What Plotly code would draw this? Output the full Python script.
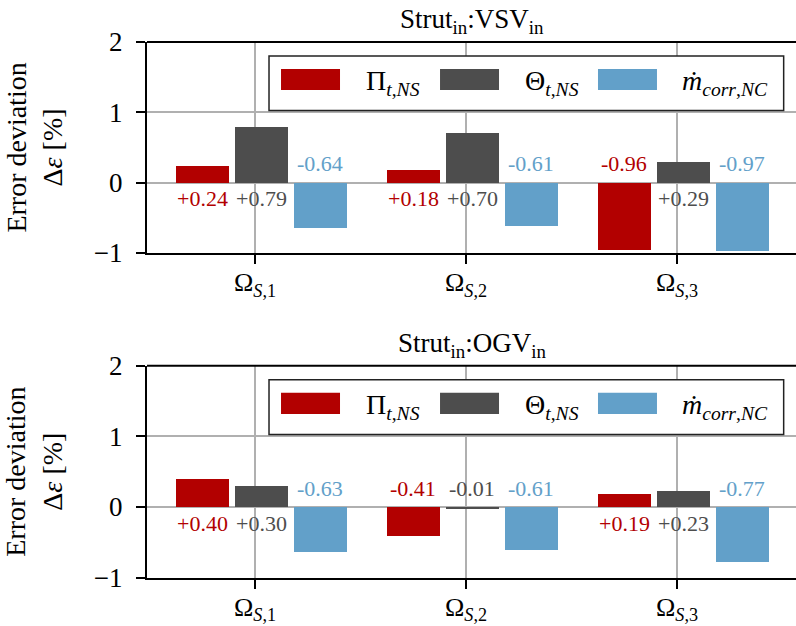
import plotly.graph_objects as go

# Operating points on the x axis
categories = ["Ω<sub><i>S</i>,1</sub>", "Ω<sub><i>S</i>,2</sub>", "Ω<sub><i>S</i>,3</sub>"]

# Error deviation [%] per quantity, panel "Strut_in : VSV_in"
vsv_pi = [0.24, 0.18, -0.96]
vsv_theta = [0.79, 0.70, 0.29]
vsv_mdot = [-0.64, -0.61, -0.97]

# Error deviation [%] per quantity, panel "Strut_in : OGV_in"
ogv_pi = [0.40, -0.41, 0.19]
ogv_theta = [0.30, -0.01, 0.23]
ogv_mdot = [-0.63, -0.61, -0.77]

series_names = ["Π<sub><i>t</i>,<i>NS</i></sub>",
                "Θ<sub><i>t</i>,<i>NS</i></sub>",
                "<i>ṁ</i><sub><i>corr</i>,<i>NC</i></sub>"]
panel_titles = ["Strut<sub>in</sub>:VSV<sub>in</sub>", "Strut<sub>in</sub>:OGV<sub>in</sub>"]
y_ticks = [-1, 0, 1, 2]

colors = ["#b20000", "#4d4d4d", "#62a0c9"]
offsets = [-0.25, 0.03, 0.31]
bar_width = 0.25
FONT = "Liberation Serif"

panels = [
    (panel_titles[0], [vsv_pi, vsv_theta, vsv_mdot], "x", "y"),
    (panel_titles[1], [ogv_pi, ogv_theta, ogv_mdot], "x2", "y2"),
]

fig = go.Figure()
annotations = []
shapes = []


def fmt(v):
    return ("+%.2f" % v) if v >= 0 else ("-%.2f" % abs(v))


for title, series, xa, ya in panels:
    xdom = xa + " domain"
    ydom = ya + " domain"
    for s, vals in enumerate(series):
        xs = [i + offsets[s] for i in range(len(categories))]
        fig.add_trace(go.Bar(
            x=xs, y=vals, width=bar_width, marker_color=colors[s],
            marker_line_width=0, name=series_names[s], showlegend=False,
            xaxis=xa, yaxis=ya,
        ))
        # value labels sit on the opposite side of the zero line
        for xv, v in zip(xs, vals):
            annotations.append(dict(
                x=xv, y=0, xref=xa, yref=ya, text=fmt(v), showarrow=False,
                xanchor="center", yanchor="middle",
                yshift=-16 if v >= 0 else 19,
                font=dict(family=FONT, size=22, color=colors[s]),
            ))

    # panel title
    annotations.append(dict(
        x=0.5, y=1, xref=xdom, yref=ydom, text=title, showarrow=False,
        xanchor="center", yanchor="bottom", yshift=2,
        font=dict(family=FONT, size=27, color="black"),
    ))
    # top spine
    shapes.append(dict(type="line", xref=xdom, yref=ydom, x0=0, x1=1, y0=1, y1=1,
                       line=dict(color="black", width=2)))
    # legend frame
    shapes.append(dict(type="rect", xref=xdom, yref=ydom, x0=0.188, x1=0.981,
                       y0=0.676, y1=0.934, fillcolor="white",
                       line=dict(color="#222222", width=1.5), layer="above"))
    patch_x = [(0.2065, 0.2974), (0.4515, 0.5424), (0.6949, 0.7858)]
    text_x = [0.3344, 0.5794, 0.8213]
    for s in range(3):
        shapes.append(dict(type="rect", xref=xdom, yref=ydom,
                           x0=patch_x[s][0], x1=patch_x[s][1], y0=0.7725, y1=0.872,
                           fillcolor=colors[s], line=dict(width=0), layer="above"))
        annotations.append(dict(
            x=text_x[s], y=0.822, xref=xdom, yref=ydom, text=series_names[s],
            showarrow=False, xanchor="left", yanchor="middle", yshift=-3,
            font=dict(family=FONT, size=28, color="black"),
        ))
    # y axis label
    annotations.append(dict(
        x=-0.174, y=0.5, xref="paper", yref=ydom, text="Error deviation<br>Δ<i>ε</i> [%]",
        showarrow=False, textangle=-90, xanchor="center", yanchor="middle",
        font=dict(family=FONT, size=28, color="black"),
    ))

axis_common = dict(
    showgrid=True, gridcolor="#b0b0b0", gridwidth=1.5, zeroline=False,
    showline=True, linecolor="black", linewidth=2,
    ticks="outside", ticklen=9, tickwidth=2, tickcolor="black",
    automargin=False,
)

x_range = [-0.512, 2.564]
xtick_font = dict(family=FONT, size=26, color="black")
ytick_font = dict(family=FONT, size=27, color="black")
fig.update_layout(
    width=796, height=626,
    margin=dict(l=147, r=0, t=0, b=0),
    paper_bgcolor="white", plot_bgcolor="white",
    bargap=0, showlegend=False,
    xaxis=dict(domain=[0, 1], anchor="y", range=x_range,
               tickvals=list(range(len(categories))), ticktext=categories,
               ticklabelstandoff=-4, tickfont=xtick_font, **axis_common),
    yaxis=dict(domain=[0.5958, 0.9329], anchor="x", range=[-1, 2],
               tickvals=y_ticks, ticklabelstandoff=8, tickfont=ytick_font, **axis_common),
    xaxis2=dict(domain=[0, 1], anchor="y2", range=x_range,
                tickvals=list(range(len(categories))), ticktext=categories,
                ticklabelstandoff=-4, tickfont=xtick_font, **axis_common),
    yaxis2=dict(domain=[0.0772, 0.4158], anchor="x2", range=[-1, 2],
                tickvals=y_ticks, ticklabelstandoff=8, tickfont=ytick_font, **axis_common),
    annotations=annotations,
    shapes=shapes,
)

fig.write_html("out.html")
